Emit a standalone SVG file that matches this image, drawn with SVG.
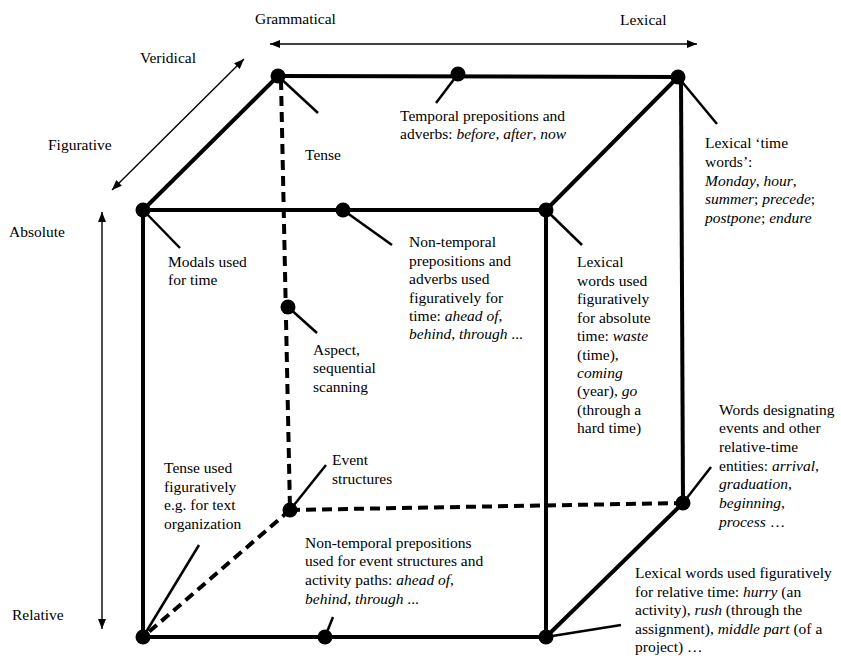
<svg xmlns="http://www.w3.org/2000/svg" width="841" height="667" viewBox="0 0 841 667">
<style>
text{font-family:"Liberation Serif","Times New Roman",serif;font-size:15.5px;fill:#000}
.e{stroke:#000;stroke-width:4;fill:none}
.d{stroke:#000;stroke-width:4;fill:none;stroke-dasharray:10 6}
.c{stroke:#000;stroke-width:2.5;fill:none}
.a{stroke:#000;stroke-width:1.4;fill:none;marker-start:url(#ah);marker-end:url(#ah)}
.a1{stroke:#000;stroke-width:1.4;fill:none;marker-end:url(#ah)}
.dot{fill:#000}
</style>
<defs>
<marker id="ah" viewBox="0 0 10 8" refX="10" refY="4" markerWidth="10" markerHeight="8" markerUnits="userSpaceOnUse" orient="auto-start-reverse">
<path d="M0,0 L10,4 L0,8 Z" fill="#000"/>
</marker>
</defs>
<rect width="841" height="667" fill="#fff"/>
<g id="axes">
<line class="a" x1="270" y1="44" x2="697" y2="44"/>
<line class="a" x1="112" y1="190" x2="244" y2="59"/>
<line class="a" x1="102" y1="212" x2="102" y2="629"/>
<text x="255" y="24">Grammatical</text>
<text x="620" y="25">Lexical</text>
<text x="140" y="63">Veridical</text>
<text x="48" y="150">Figurative</text>
<text x="9" y="237">Absolute</text>
<text x="12" y="620">Relative</text>
</g>
<g id="connectors">
<line class="e" x1="278" y1="76" x2="678" y2="77"/>
<line class="e" x1="143" y1="210" x2="546" y2="210"/>
<line class="e" x1="143" y1="637" x2="546" y2="637"/>
<line class="e" x1="143" y1="210" x2="143" y2="637"/>
<line class="e" x1="546" y1="210" x2="546" y2="637"/>
<line class="e" x1="681" y1="78" x2="683" y2="503"/>
<line class="e" x1="278" y1="76" x2="143" y2="210"/>
<line class="e" x1="678" y1="77" x2="546" y2="210"/>
<line class="e" x1="683" y1="503" x2="546" y2="637"/>
<line class="d" x1="281" y1="80" x2="290" y2="510"/>
<line class="d" x1="290" y1="510" x2="683" y2="503"/>
<line class="d" x1="290" y1="510" x2="143" y2="637"/>
<line class="c" x1="278" y1="76" x2="318" y2="113"/>
<line class="c" x1="458" y1="74" x2="436" y2="103"/>
<line class="c" x1="678" y1="77" x2="717" y2="124"/>
<line class="c" x1="143" y1="210" x2="180" y2="248"/>
<line class="c" x1="343" y1="210" x2="392" y2="245"/>
<line class="c" x1="546" y1="210" x2="582" y2="245"/>
<line class="c" x1="288" y1="307" x2="317" y2="333"/>
<line class="c" x1="290" y1="510" x2="326" y2="465"/>
<line class="c" x1="143" y1="637" x2="199" y2="545"/>
<line class="c" x1="325" y1="637" x2="333" y2="617"/>
<line class="c" x1="683" y1="503" x2="711" y2="467"/>
<line class="c" x1="546" y1="637" x2="621" y2="625"/>
</g>
<g id="n-tense">
<circle class="dot" cx="278" cy="76" r="7.5"/>
<text x="305" y="160">Tense</text>
</g>
<g id="n-temporal-prep">
<circle class="dot" cx="458" cy="74" r="7.5"/>
<text x="400" y="121">Temporal prepositions and</text>
<text x="400" y="139">adverbs: <tspan font-style="italic">before</tspan>, <tspan font-style="italic">after</tspan>, <tspan font-style="italic">now</tspan></text>
</g>
<g id="n-time-words">
<circle class="dot" cx="678" cy="77" r="7.5"/>
<text x="705" y="148">Lexical ‘time</text>
<text x="705" y="167">words’:</text>
<text x="705" y="186"><tspan font-style="italic">Monday</tspan>, <tspan font-style="italic">hour</tspan>,</text>
<text x="705" y="204"><tspan font-style="italic">summer</tspan>; <tspan font-style="italic">precede</tspan>;</text>
<text x="705" y="223"><tspan font-style="italic">postpone</tspan>; <tspan font-style="italic">endure</tspan></text>
</g>
<g id="n-modals">
<circle class="dot" cx="143" cy="210" r="7.5"/>
<text x="168" y="267">Modals used</text>
<text x="168" y="285">for time</text>
</g>
<g id="n-nontemporal">
<circle class="dot" cx="343" cy="210" r="7.5"/>
<text x="409" y="247">Non-temporal</text>
<text x="409" y="266">prepositions and</text>
<text x="409" y="284">adverbs used</text>
<text x="409" y="303">figuratively for</text>
<text x="409" y="321">time: <tspan font-style="italic">ahead of</tspan>,</text>
<text x="409" y="339"><tspan font-style="italic">behind</tspan>, <tspan font-style="italic">through</tspan> ...</text>
</g>
<g id="n-lexical-abs">
<circle class="dot" cx="546" cy="210" r="7.5"/>
<text x="577" y="267">Lexical</text>
<text x="577" y="286">words used</text>
<text x="577" y="304">figuratively</text>
<text x="577" y="323">for absolute</text>
<text x="577" y="341">time: <tspan font-style="italic">waste</tspan></text>
<text x="577" y="360">(time),</text>
<text x="577" y="378"><tspan font-style="italic">coming</tspan></text>
<text x="577" y="396">(year), <tspan font-style="italic">go</tspan></text>
<text x="577" y="415">(through a</text>
<text x="577" y="433">hard time)</text>
</g>
<g id="n-aspect">
<circle class="dot" cx="288" cy="307" r="7.5"/>
<text x="313" y="355">Aspect,</text>
<text x="313" y="373">sequential</text>
<text x="313" y="392">scanning</text>
</g>
<g id="n-event">
<circle class="dot" cx="290" cy="510" r="7.5"/>
<text x="332" y="465">Event</text>
<text x="332" y="484">structures</text>
</g>
<g id="n-words-designating">
<circle class="dot" cx="683" cy="503" r="7.5"/>
<text x="719" y="415">Words designating</text>
<text x="719" y="433">events and other</text>
<text x="719" y="452">relative-time</text>
<text x="719" y="471">entities: <tspan font-style="italic">arrival</tspan>,</text>
<text x="719" y="489"><tspan font-style="italic">graduation</tspan>,</text>
<text x="719" y="508"><tspan font-style="italic">beginning</tspan>,</text>
<text x="719" y="527" font-size="17"><tspan font-style="italic">process</tspan> …</text>
</g>
<g id="n-tense-fig">
<circle class="dot" cx="143" cy="637" r="7.5"/>
<text x="164" y="473">Tense used</text>
<text x="164" y="492">figuratively</text>
<text x="164" y="510">e.g. for text</text>
<text x="164" y="529">organization</text>
</g>
<g id="n-nontemporal-event">
<circle class="dot" cx="325" cy="637" r="7.5"/>
<text x="305" y="548">Non-temporal prepositions</text>
<text x="305" y="566">used for event structures and</text>
<text x="305" y="585">activity paths: <tspan font-style="italic">ahead of</tspan>,</text>
<text x="305" y="604"><tspan font-style="italic">behind</tspan>, <tspan font-style="italic">through</tspan> ...</text>
</g>
<g id="n-lexical-rel">
<circle class="dot" cx="546" cy="637" r="7.5"/>
<text x="635" y="578">Lexical words used figuratively</text>
<text x="635" y="597">for relative time: <tspan font-style="italic">hurry</tspan> (an</text>
<text x="635" y="615">activity), <tspan font-style="italic">rush</tspan> (through the</text>
<text x="635" y="634">assignment), <tspan font-style="italic">middle part</tspan> (of a</text>
<text x="635" y="652">project) …</text>
</g>
</svg>
